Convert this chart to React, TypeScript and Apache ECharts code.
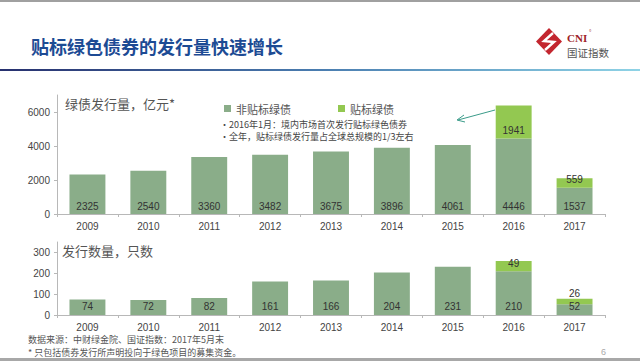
import React, { useEffect, useRef } from "react";
import * as echarts from "echarts";

const years = ["2009", "2010", "2011", "2012", "2013", "2014", "2015", "2016", "2017"];
const amountUnlabeled = [2325, 2540, 3360, 3482, 3675, 3896, 4061, 4446, 1537];
const amountLabeled = [0, 0, 0, 0, 0, 0, 0, 1941, 559];
const countUnlabeled = [74, 72, 82, 161, 166, 204, 231, 210, 52];
const countLabeled = [0, 0, 0, 0, 0, 0, 0, 49, 26];

const seriesNames = ["非贴标绿债", "贴标绿债"];
const pageTitle = "贴标绿色债券的发行量快速增长";
const topTitle = "绿债发行量，亿元*";
const bottomTitle = "发行数量，只数";
const notes = ["•2016年1月：境内市场首次发行贴标绿色债券", "•全年，贴标绿债发行量占全球总规模的1/3左右"];
const footnotes = ["数据来源：中财绿金院、国证指数：2017年5月末", "* 只包括债券发行所声明投向于绿色项目的募集资金。"];

const C_DARK = "#8aad89";
const C_LIGHT = "#93c851";
const FONT = "'Liberation Sans', 'Noto Sans CJK SC', sans-serif";
const CJK = "'Noto Sans CJK SC', sans-serif";

export default function App() {
  const ref = useRef<HTMLDivElement>(null);
  useEffect(() => {
    if (!ref.current) return;
    const chart = echarts.init(ref.current, null, { renderer: "svg" });
    const hideZero = (p: any) => (p.value ? String(p.value) : "");
    const labelStyle = { color: "#333", fontSize: 10, fontFamily: FONT };
    const xAxisCommon = {
      type: "category",
      data: years,
      axisLine: { lineStyle: { color: "#b8b8b8" } },
      axisTick: { show: true, length: 3, lineStyle: { color: "#b8b8b8" } },
      axisLabel: { color: "#444", fontSize: 10, fontFamily: FONT, margin: 7 },
    };
    const yAxisCommon = {
      type: "value",
      min: 0,
      axisLine: { show: true, lineStyle: { color: "#b8b8b8" } },
      axisTick: { show: true, length: 3, lineStyle: { color: "#b8b8b8" } },
      splitLine: { show: false },
      axisLabel: {
        color: "#444", fontSize: 10, fontFamily: FONT, margin: 7, showMaxLabel: false,
        formatter: (v: number) => String(v),
      },
    };
    const option: any = {
      animation: false,
      backgroundColor: "#ffffff",
      grid: [
        { left: 57, right: 35, top: 95, bottom: 147 },
        { left: 57, right: 35, top: 242, bottom: 46 },
      ],
      xAxis: [
        { ...xAxisCommon, gridIndex: 0 },
        { ...xAxisCommon, gridIndex: 1 },
      ],
      yAxis: [
        { ...yAxisCommon, gridIndex: 0, max: 7000, interval: 2000 },
        { ...yAxisCommon, gridIndex: 1, max: 350, interval: 100 },
      ],
      legend: [
        {
          data: [seriesNames[0]], left: 219, top: 98, itemWidth: 7, itemHeight: 7, icon: "rect",
          textStyle: { fontSize: 11, color: "#555", fontFamily: CJK },
        },
        {
          data: [seriesNames[1]], left: 333, top: 98, itemWidth: 7, itemHeight: 7, icon: "rect",
          textStyle: { fontSize: 11, color: "#555", fontFamily: CJK },
        },
      ],
      series: [
        {
          name: seriesNames[0], type: "bar", stack: "a", xAxisIndex: 0, yAxisIndex: 0,
          data: amountUnlabeled, barWidth: "59%", itemStyle: { color: C_DARK },
          label: { show: true, position: "insideBottom", distance: 3, ...labelStyle },
        },
        {
          name: seriesNames[1], type: "bar", stack: "a", xAxisIndex: 0, yAxisIndex: 0,
          data: amountLabeled, barWidth: "59%", itemStyle: { color: C_LIGHT },
          label: { show: true, position: "insideBottom", distance: 3, formatter: hideZero, ...labelStyle },
        },
        {
          name: seriesNames[0], type: "bar", stack: "b", xAxisIndex: 1, yAxisIndex: 1,
          data: countUnlabeled, barWidth: "59%", itemStyle: { color: C_DARK },
          label: { show: true, position: "insideBottom", distance: 4, ...labelStyle },
        },
        {
          name: seriesNames[1], type: "bar", stack: "b", xAxisIndex: 1, yAxisIndex: 1,
          data: countLabeled.map((v, i) => ({
            value: v,
            label: i === countLabeled.length - 1
              ? { position: "top", distance: 0 }
              : { position: "inside", offset: [0, -3] },
          })),
          barWidth: "59%", itemStyle: { color: C_LIGHT },
          label: { show: true, formatter: hideZero, ...labelStyle },
        },
      ],
      graphic: [
        { type: "rect", shape: { x: 0, y: 0, width: 640, height: 2 }, style: { fill: "#a0a0a0" } },
        {
          type: "rect", shape: { x: 0, y: 69, width: 640, height: 2 },
          style: {
            fill: new echarts.graphic.LinearGradient(0, 0, 1, 0, [
              { offset: 0, color: "#27306e" },
              { offset: 0.5, color: "#4a7db0" },
              { offset: 1, color: "#8fd3e6" },
            ]),
          },
        },
        { type: "rect", shape: { x: 0, y: 358, width: 640, height: 3 }, style: { fill: "#a8a8a8" } },
        {
          type: "text", x: 31, y: 46,
          style: { text: pageTitle, font: `bold 18px ${CJK}`, fill: "#1d4b94", verticalAlign: "middle" },
        },
        // logo
        { type: "polygon", shape: { points: [[549, 28], [562, 41.5], [549, 55], [536, 41.5]] }, style: { fill: "#c3262f" } },
        { type: "polyline", shape: { points: [[553, 33], [544, 41], [554, 42], [545, 50]] }, style: { stroke: "#ffffff", lineWidth: 2.4, fill: "none" } },
        { type: "text", x: 567, y: 38, style: { text: "CNI", font: `bold 11px 'Liberation Serif', serif`, fill: "#9e1f2a", verticalAlign: "middle" } },
        { type: "text", x: 589, y: 32, style: { text: "°", font: `6px 'Liberation Serif', serif`, fill: "#9e1f2a", verticalAlign: "middle" } },
        { type: "text", x: 567, y: 52, style: { text: "国证指数", font: `10.5px ${CJK}`, fill: "#555", verticalAlign: "middle" } },
        // chart titles
        { type: "text", x: 65, y: 103, style: { text: topTitle, font: `13px ${CJK}`, fill: "#555", verticalAlign: "middle" } },
        { type: "text", x: 62, y: 250, style: { text: bottomTitle, font: `13px ${CJK}`, fill: "#555", verticalAlign: "middle" } },
        { type: "text", x: 220, y: 124.5, style: { text: notes[0], font: `9px ${CJK}`, fill: "#444", verticalAlign: "middle" } },
        { type: "text", x: 220, y: 136.5, style: { text: notes[1], font: `9px ${CJK}`, fill: "#444", verticalAlign: "middle" } },
        { type: "line", shape: { x1: 495, y1: 110, x2: 458, y2: 120 }, style: { stroke: "#3b9c8a", lineWidth: 1 } },
        { type: "polyline", shape: { points: [[464, 115], [457, 120], [465, 122]] }, style: { stroke: "#3b9c8a", lineWidth: 1, fill: "none" } },
        // footnotes
        { type: "text", x: 28, y: 339.5, style: { text: footnotes[0], font: `9px ${CJK}`, fill: "#555", verticalAlign: "middle" } },
        { type: "text", x: 28, y: 352, style: { text: footnotes[1], font: `9px ${CJK}`, fill: "#555", verticalAlign: "middle" } },
        { type: "text", x: 601, y: 352, style: { text: "6", font: `9px ${FONT}`, fill: "#aaa", verticalAlign: "middle" } },
      ],
    };
    chart.setOption(option);
    return () => chart.dispose();
  }, []);
  return (
    <div
      ref={ref}
      style={{ position: "fixed", left: 0, top: 0, width: 640, height: 361, background: "#fff" }}
    />
  );
}
